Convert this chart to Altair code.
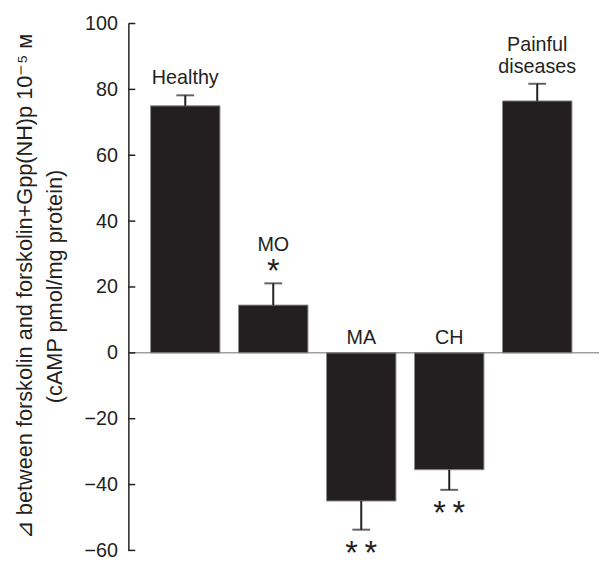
import altair as alt
import pandas as pd

categories = ["Healthy", "MO", "MA", "CH", "Painful diseases"]
means = [75.0, 14.5, -45.0, -35.5, 76.5]
errors = [3.2, 6.6, 8.7, 6.1, 5.2]
names = ["Healthy", "MO", "MA", "CH", "Painful\ndiseases"]
stars = ["", "*", "*\u2009*", "*\u2009*", ""]
tick_values = [-60, -40, -20, 0, 20, 40, 60, 80, 100]

df = pd.DataFrame({"cat": categories, "mean": means, "err": errors,
                   "name": names, "sig": stars})
df["end"] = [m + e if m >= 0 else m - e for m, e in zip(means, errors)]
df["zero"] = 0.0
df["lines"] = [n.count("\n") for n in names]
ticks_df = pd.DataFrame({"v": tick_values})

FONT = "Liberation Sans"
INK = "#231f20"
W, H = 477, 534

TITLE = ["⊿ between forskolin and forskolin+Gpp(NH)p 10⁻⁵ ᴍ",
         "(cAMP pmol/mg protein)"]
AXIS = alt.Axis(values=tick_values, ticks=False, grid=False,
                labelPadding=11, labelFontSize=20, labelFont=FONT,
                labelColor=INK, domainColor=INK, domainWidth=1.5,
                titleFont=FONT, titleFontSize=22, titleFontWeight="normal",
                titleColor=INK, titleAngle=-90, titleBaseline="top",
                titleAlign="center", titleX=-115, titleY=266,
                titleLineHeight=30)
yscale = alt.Scale(domain=[-60, 100], nice=False, zero=False)


def Y(field):
    return alt.Y(field, scale=yscale, title=TITLE, axis=AXIS)


xenc = alt.X("cat:N", sort=categories, axis=None,
             scale=alt.Scale(paddingInner=0.211, paddingOuter=0.28, align=0.45))

base = alt.Chart(df).encode(x=xenc)

bars = base.mark_bar(color=INK, stroke="#8c8c8c", strokeWidth=1).encode(
    y=Y("mean:Q"), y2=alt.Y2("zero:Q"))

err = base.mark_rule(color=INK, strokeWidth=2).encode(y=Y("mean:Q"), y2="end:Q")
caps = base.mark_tick(color=INK, size=18, thickness=2, orient="horizontal").encode(
    y=Y("end:Q"))

zero_line = alt.Chart(ticks_df).transform_filter("datum.v == 0").mark_rule(
    color="#6e6e6e", strokeWidth=1).encode(
    y=Y("v:Q"), x=alt.value(0), x2=alt.value(W))

inner_ticks = alt.Chart(ticks_df).mark_rule(color=INK, strokeWidth=1.5).encode(
    y=Y("v:Q"), x=alt.value(0), x2=alt.value(7))

txt = dict(font=FONT, color=INK, fontSize=20)

names_top = base.transform_filter(
    "datum.mean > 0 && datum.sig == '' && datum.lines == 0").mark_text(
    baseline="bottom", dy=-7, **txt).encode(y=Y("end:Q"), text="name:N")

names_top2 = base.transform_filter(
    "datum.mean > 0 && datum.sig == '' && datum.lines == 1").mark_text(
    baseline="bottom", dy=-29, lineBreak="\n", lineHeight=22, **txt).encode(
    y=Y("end:Q"), text="name:N")

names_mo = base.transform_filter("datum.mean > 0 && datum.sig != ''").mark_text(
    baseline="bottom", dy=-29, **txt).encode(y=Y("end:Q"), text="name:N")

star_mo = base.transform_filter("datum.mean > 0 && datum.sig != ''").mark_text(
    baseline="alphabetic", dy=-1, font=FONT, color=INK, fontSize=33).encode(
    y=Y("end:Q"), text="sig:N")

names_neg = base.transform_filter("datum.mean < 0").mark_text(
    baseline="bottom", dy=-5, **txt).encode(y=Y("zero:Q"), text="name:N")

stars_neg = base.transform_filter("datum.mean < 0").mark_text(
    baseline="alphabetic", dy=35, font=FONT, color=INK, fontSize=33).encode(
    y=Y("end:Q"), text="sig:N")

chart = alt.layer(bars, zero_line, err, caps, inner_ticks, names_top, names_top2,
                  names_mo, star_mo, names_neg, stars_neg).properties(
    width=W, height=H, autosize=alt.AutoSizeParams(type="none"),
    padding={"left": 122, "top": 12, "right": 3, "bottom": 8},
).configure_view(stroke=None)

chart.save("out.html", embed_options={"renderer": "svg", "actions": False})
